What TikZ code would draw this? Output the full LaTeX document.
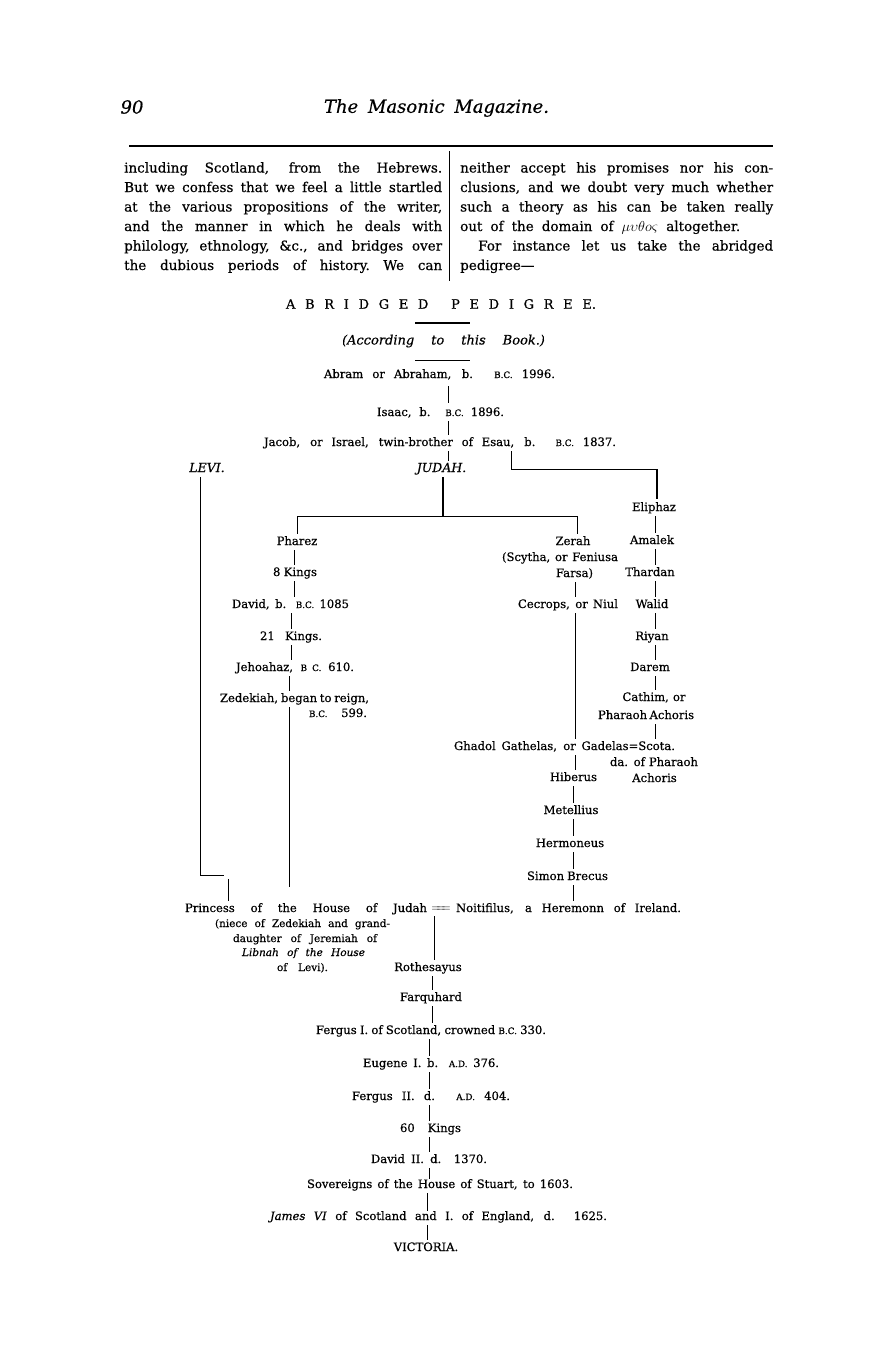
\documentclass[tikz,border=0pt]{standalone}
\usepackage{fontspec}
\setmainfont{DejaVu Serif}[FakeBold=0.5]
\newcommand\W[2]{\makebox[#1pt][s]{#2}}
\newcommand\SC[1]{{\fontsize{8.8}{10}\selectfont #1}}
\newcommand\pedf{\fontsize{11.6}{14}\selectfont}
\newcommand\bodyf{\fontsize{13.5}{19.5}\selectfont}
\newcommand\smallf{\fontsize{10.5}{13}\selectfont}
\newcommand\hdrf{\fontsize{18}{22}\selectfont}
\begin{document}
\begin{tikzpicture}[x=1pt,y=-1pt,
  t/.style={inner sep=0.5pt, text height=8.5pt, text depth=2.5pt, font=\pedf},
  ts/.style={t, font=\smallf},
  bl/.style={anchor=west, inner sep=0pt, font=\bodyf, text height=10pt, text depth=3pt},
  ln/.style={line width=0.8pt, shorten <=2pt, shorten >=2pt},
  lnt/.style={ln, shorten <=5pt, shorten >=4pt},
  thk/.style={line width=1.5pt}]
\fill[white] (0,0) rectangle (886,1365);
\useasboundingbox (0,0) rectangle (886,1365);

% ---------- header ----------
\node[inner sep=0pt, font=\hdrf\itshape] (pg) at (132,107) {90};
\node[inner sep=0pt, font=\hdrf\itshape] (ttl) at (436.5,108) {\W{225}{The Masonic Magazine.}};
\coordinate (rl) at (129,146); \coordinate (rr) at (773,146);
\draw[line width=1.5pt] (rl) -- (rr);
\coordinate (dv1) at (449,151); \coordinate (dv2) at (449,281);
\draw[line width=0.5pt] (dv1) -- (dv2);

% left column
\node[bl] (l1) at (124,169) {\W{318}{including Scotland, from the Hebrews.}};
\node[bl] (l2) at (124,188.5) {\W{318}{But we confess that we feel a little startled}};
\node[bl] (l3) at (124,208) {\W{318}{at the various propositions of the writer,}};
\node[bl] (l4) at (124,227.5) {\W{318}{and the manner in which he deals with}};
\node[bl] (l5) at (124,247) {\W{318}{philology, ethnology, \&c., and bridges over}};
\node[bl] (l6) at (124,266.5) {\W{318}{the dubious periods of history.\quad We can}};
% right column
\node[bl] (r1) at (460,169) {\W{313}{neither accept his promises nor his con-}};
\node[bl] (r2) at (460,188.5) {\W{313}{clusions, and we doubt very much whether}};
\node[bl] (r3) at (460,208) {\W{313}{such a theory as his can be taken really}};
\node[bl] (r4) at (460,227.5) {\W{280}{out of the domain of $\mu\upsilon\theta o\varsigma$ altogether.}};
\node[bl] (r5) at (478,247) {\W{295}{For instance let us take the abridged}};
\node[bl] (r6) at (460,266.5) {pedigree---};

% ---------- title ----------
\node[inner sep=0pt, font=\fontsize{13}{16}\selectfont] (abr) at (441,304) {\W{310}{A B R I D G E D \quad P E D I G R E E.}};
\coordinate (ru1a) at (415,323); \coordinate (ru1b) at (470,323);
\draw[line width=1.2pt] (ru1a) -- (ru1b);
\node[inner sep=0pt, font=\fontsize{13}{16}\selectfont\itshape] (acc) at (443.5,341) {\W{203}{(According to this Book.)}};
\coordinate (ru2a) at (415,360); \coordinate (ru2b) at (470,360);
\draw[line width=0.8pt] (ru2a) -- (ru2b);

% ---------- pedigree nodes ----------
\node[t] (abram) at (439.5,375) {\W{231}{Abram or Abraham, b. \SC{B.C.} 1996.}};
\node[t] (isaac) at (440.5,413) {\W{127}{Isaac, b. \SC{B.C.} 1896.}};
\node[t] (jacob) at (440,443) {\W{352}{Jacob, or Israel, twin-brother of Esau, b. \SC{B.C.} 1837.}};
\node[t, font=\fontsize{12.5}{15}\selectfont\itshape] (levi) at (207,469) {LEVI.};
\node[t, font=\fontsize{12.5}{15}\selectfont\itshape] (judah) at (441.5,469) {JUDAH.};
\node[t] (eliphaz) at (654,508) {Eliphaz};
\node[t] (pharez) at (297,542) {Pharez};
\node[t] (zerah) at (573,542) {Zerah};
\node[t] (amalek) at (652,541) {Amalek};
\node[t] (scytha) at (560,558) {\W{116}{(Scytha, or Feniusa}};
\node[t] (kings8) at (295,573) {\W{44}{8 Kings}};
\node[t] (farsa) at (574.5,574) {Farsa)};
\node[t] (thardan) at (650,573) {Thardan};
\node[t] (david) at (290.5,605) {\W{117}{David, b. \SC{B.C.} 1085}};
\node[t] (cecrops) at (568,605) {\W{100}{Cecrops, or Niul}};
\node[t] (walid) at (652,605) {Walid};
\node[t] (kings21) at (291,637) {\W{62}{21 Kings.}};
\node[t] (riyan) at (652,637) {Riyan};
\node[t] (jehoahaz) at (295,668) {\W{118}{Jehoahaz, \SC{B C.} 610.}};
\node[t] (darem) at (650,668) {Darem};
\node[t] (zedekiah) at (294.5,699) {\W{149}{Zedekiah, began to reign,}};
\node[t] (cathim) at (654,698) {\W{63}{Cathim, or}};
\node[t] (bc599) at (338,714) {\W{58}{\SC{B.C.} 599.}};
\node[t] (pharaoh) at (645.5,716) {\W{95}{Pharaoh Achoris}};
\node[t] (gadelas) at (564.5,747) {\W{221}{Ghadol Gathelas, or Gadelas=Scota.}};
\node[t] (daof) at (654,763) {\W{88}{da. of Pharaoh}};
\node[t] (achoris) at (654.5,779) {Achoris};
\node[t] (hiberus) at (573.5,778) {Hiberus};
\node[t] (metellius) at (571,811) {Metellius};
\node[t] (hermoneus) at (570,844) {Hermoneus};
\node[t] (simon) at (567.5,877) {\W{81}{Simon Brecus}};
\node[t] (princess) at (306,909) {\W{242}{Princess of the House of Judah}};
\node[t] (marr) at (441,908) {$=\!\!=\!\!=$};
\node[t] (noit) at (568.5,909) {\W{225}{Noitifilus, a Heremonn of Ireland.}};
\node[ts] (niece) at (302.5,924) {\W{175}{(niece of Zedekiah and grand-}};
\node[ts] (daughter) at (305,939) {\W{144}{daughter of Jeremiah of}};
\node[ts] (libnah) at (303.5,953) {\W{123}{\itshape Libnah of the House}};
\node[ts] (oflevi) at (302.5,968) {\W{51}{of Levi).}};
\node[t] (roth) at (428,968) {Rothesayus};
\node[t] (farq) at (431,998) {Farquhard};
\node[t] (fergus1) at (431,1031) {\W{230}{Fergus I. of Scotland, crowned \SC{B.C.} 330.}};
\node[t] (eugene) at (431,1064) {\W{136}{Eugene I. b. \SC{A.D.} 376.}};
\node[t] (fergus2) at (431,1097) {\W{158}{Fergus II. d. \SC{A.D.} 404.}};
\node[t] (kings60) at (430.5,1129) {\W{61}{60 Kings}};
\node[t] (david2) at (429,1160) {\W{116}{David II. d. 1370.}};
\node[t] (sov) at (440,1185) {\W{266}{Sovereigns of the House of Stuart, to 1603.}};
\node[t] (james) at (438.5,1217) {\W{337}{\textit{James VI} of Scotland and I. of England, d. 1625.}};
\node[t] (victoria) at (426,1248) {VICTORIA.};

% ---------- column coordinates ----------
\coordinate (xTop) at (448,0);
\coordinate (xJ) at (443,0);
\coordinate (jh) at (443,516);
\coordinate (hl) at (297,516); \coordinate (hr) at (577,516);
\coordinate (xP1) at (294,0); \coordinate (xP2) at (291,0); \coordinate (xP3) at (289,0);
\coordinate (zEnd) at (289,887);
\coordinate (xZ) at (575,0); \coordinate (xZ2) at (573,0);
\coordinate (esA) at (511,469); \coordinate (esB) at (657,469);
\coordinate (xE) at (655,0);
\coordinate (xL) at (200,0); \coordinate (lvA) at (200,875); \coordinate (lvB) at (224,875);
\coordinate (pA) at (228,879);
\coordinate (xM) at (434,0); \coordinate (xB1) at (432,0); \coordinate (xB2) at (429,0); \coordinate (xB3) at (427,0);

% ---------- connectors ----------
\draw[lnt] (abram.south -| xTop) -- (isaac.north -| xTop);
\draw[ln] (isaac.south -| xTop) -- (jacob.north -| xTop);
\draw[ln] (jacob.south -| xTop) -- (judah.north -| xTop);
\draw[thk, shorten <=2pt] (judah.south -| xJ) -- (jh);
\draw[line width=0.8pt] (hl) -- (hr);
\draw[ln, shorten <=0pt] (hl) -- (pharez.north -| hl);
\draw[ln, shorten <=0pt] (hr) -- (zerah.north -| hr);
% Esau branch
\draw[line width=0.8pt, shorten <=2pt] (jacob.south -| esA) -- (esA) -- (esB);
\draw[thk, shorten >=3pt] (esB) -- (eliphaz.north -| esB);
% Pharez line
\draw[ln] (pharez.south -| xP1) -- (kings8.north -| xP1);
\draw[ln] (kings8.south -| xP1) -- (david.north -| xP1);
\draw[ln] (david.south -| xP2) -- (kings21.north -| xP2);
\draw[ln] (kings21.south -| xP2) -- (jehoahaz.north -| xP2);
\draw[ln] (jehoahaz.south -| xP3) -- (zedekiah.north -| xP3);
\draw[ln, shorten >=0pt] (zedekiah.south -| xP3) -- (zEnd);
% Levi line
\draw[line width=0.8pt, shorten <=2pt] (levi.south -| xL) -- (lvA) -- (lvB);
\draw[ln, shorten <=0pt] (pA) -- (princess.north -| pA);
% Zerah line
\draw[ln] (farsa.south -| xZ) -- (cecrops.north -| xZ);
\draw[ln] (cecrops.south -| xZ) -- (gadelas.north -| xZ);
\draw[ln] (gadelas.south -| xZ) -- (hiberus.north -| xZ);
\draw[ln] (hiberus.south -| xZ2) -- (metellius.north -| xZ2);
\draw[ln] (metellius.south -| xZ2) -- (hermoneus.north -| xZ2);
\draw[ln] (hermoneus.south -| xZ2) -- (simon.north -| xZ2);
\draw[ln] (simon.south -| xZ2) -- (noit.north -| xZ2);
% Eliphaz line
\draw[ln] (eliphaz.south -| xE) -- (amalek.north -| xE);
\draw[ln] (amalek.south -| xE) -- (thardan.north -| xE);
\draw[ln] (thardan.south -| xE) -- (walid.north -| xE);
\draw[ln] (walid.south -| xE) -- (riyan.north -| xE);
\draw[ln] (riyan.south -| xE) -- (darem.north -| xE);
\draw[ln] (darem.south -| xE) -- (cathim.north -| xE);
\draw[ln] (pharaoh.south -| xE) -- (gadelas.north -| xE);
% Scottish line
\draw[ln] (marr.south -| xM) -- (roth.north -| xM);
\draw[ln] (roth.south -| xB1) -- (farq.north -| xB1);
\draw[ln] (farq.south -| xB1) -- (fergus1.north -| xB1);
\draw[ln] (fergus1.south -| xB2) -- (eugene.north -| xB2);
\draw[ln] (eugene.south -| xB2) -- (fergus2.north -| xB2);
\draw[ln] (fergus2.south -| xB2) -- (kings60.north -| xB2);
\draw[ln] (kings60.south -| xB2) -- (david2.north -| xB2);
\draw[ln, shorten >=0pt] (david2.south -| xB2) -- (sov.north -| xB2);
\draw[ln, shorten >=0pt] (sov.south -| xB3) -- (james.north -| xB3);
\draw[ln] (james.south -| xB3) -- (victoria.north -| xB3);
\end{tikzpicture}
\end{document}
